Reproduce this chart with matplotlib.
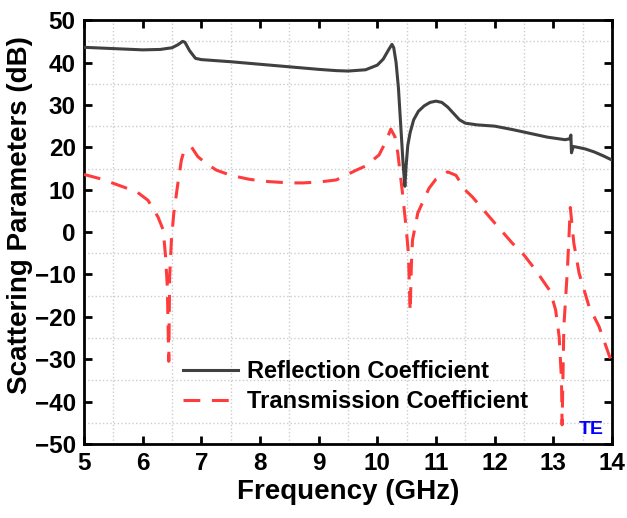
import numpy as np
import matplotlib
matplotlib.use("Agg")
import matplotlib.pyplot as plt
from matplotlib.ticker import MultipleLocator

plt.rcParams['font.family'] = ['Liberation Sans', 'DejaVu Sans']
plt.rcParams['font.weight'] = 'bold'

# reflection coefficient (dB)
f_ref = [5.0, 5.5, 6.0, 6.3, 6.5, 6.6, 6.68, 6.72, 6.8, 6.9, 7.0, 7.5, 8.0, 8.5,
         9.0, 9.3, 9.5, 9.8, 10.0, 10.1, 10.2, 10.25, 10.28, 10.32, 10.36, 10.40,
         10.44, 10.47, 10.49, 10.52, 10.56, 10.62, 10.7, 10.8, 10.9, 11.0, 11.1,
         11.2, 11.3, 11.4, 11.5, 11.7, 12.0, 12.3, 12.6, 12.9, 13.1, 13.2, 13.28,
         13.30, 13.31, 13.34, 13.45, 13.55, 13.7, 13.85, 14.0]
s_ref = [43.6, 43.3, 43.0, 43.1, 43.5, 44.2, 45.0, 44.8, 42.8, 41.0, 40.7, 40.2,
         39.6, 39.0, 38.4, 38.1, 38.0, 38.3, 39.4, 40.8, 43.2, 44.3, 43.5, 40.0,
         34.0, 25.0, 16.0, 10.8, 15.5, 20.5, 23.5, 26.5, 28.5, 29.8, 30.6, 30.9,
         30.6, 29.5, 28.0, 26.5, 25.7, 25.3, 25.0, 24.2, 23.3, 22.4, 22.0, 21.8,
         22.0, 22.9, 18.7, 20.2, 19.9, 19.6, 18.9, 18.0, 17.0]

# transmission coefficient (dB)
f_tra = [5.0, 5.3, 5.6, 5.9, 6.09, 6.26, 6.35, 6.39, 6.42, 6.43, 6.445, 6.46,
         6.49, 6.53, 6.6, 6.66, 6.7, 6.83, 6.94, 7.1, 7.26, 7.5, 7.8, 8.0, 8.16,
         8.5, 8.73, 9.0, 9.3, 9.64, 9.8, 10.03, 10.15, 10.23, 10.3, 10.35, 10.43,
         10.49, 10.53, 10.56, 10.58, 10.6, 10.69, 10.88, 11.0, 11.2, 11.34, 11.5,
         11.62, 11.96, 12.3, 12.5, 12.7, 12.95, 13.04, 13.1, 13.14, 13.15, 13.18,
         13.24, 13.27, 13.29, 13.35, 13.44, 13.61, 13.78, 13.96, 14.0]
s_tra = [13.6, 12.5, 11.0, 9.5, 7.5, 3.6, 0.5, -5.8, -12.9, -20.0, -30.5, -10.5,
         -1.9, 4.4, 11.5, 17.0, 18.9, 20.1, 17.8, 16.0, 14.6, 13.4, 12.5, 12.1,
         11.9, 11.6, 11.6, 11.8, 12.3, 14.6, 15.6, 18.2, 21.5, 24.3, 22.5, 18.6,
         9.1, 1.2, -5.0, -18.8, -8.0, -1.9, 4.5, 10.3, 12.5, 14.2, 13.4, 9.9,
         8.3, 2.8, -2.6, -5.4, -9.0, -14.0, -18.4, -24.7, -34.9, -45.5, -22.3,
         -9.0, -0.3, 5.8, -2.6, -9.7, -17.6, -22.3, -29.4, -30.5]

fig = plt.figure(figsize=(6.27, 5.18), dpi=100)
ax = fig.add_axes([0.134, 0.143, 0.842, 0.818])

ax.plot(f_ref, s_ref, color='#404040', lw=2.2, label='Reflection Coefficient', zorder=3)
ax.plot(f_tra, s_tra, color='#ff3c3c', lw=2.2, dashes=(5.5, 3.8),
        label='Transmission Coefficient', zorder=3)

ax.set_xlim(5, 14)
ax.set_ylim(-50, 50)
ax.xaxis.set_major_locator(MultipleLocator(1))
ax.yaxis.set_major_locator(MultipleLocator(10))
ax.xaxis.set_minor_locator(MultipleLocator(0.5))
ax.yaxis.set_minor_locator(MultipleLocator(5))
ax.grid(False, which='major')
ax.grid(True, which='minor', color='#cccccc', ls=':', lw=1.0)

ax.tick_params(which='major', direction='in', length=6, width=2,
               top=True, right=True, labelsize=17.5, pad=6)
ax.tick_params(which='minor', length=0)
for sp in ax.spines.values():
    sp.set_linewidth(2)

ax.set_xlabel('Frequency (GHz)', fontsize=20, fontweight='bold', labelpad=3)
ax.set_ylabel('Scattering Parameters (dB)', fontsize=20, fontweight='bold')
ax.yaxis.set_label_coords(-0.097, 0.54)

ax.legend(loc='lower left', bbox_to_anchor=(0.188, 0.072), frameon=False,
          fontsize=17, handlelength=2.3, handletextpad=0.4, labelspacing=0.3,
          borderpad=0, borderaxespad=0)

ax.text(0.985, 0.015, 'TE', transform=ax.transAxes, color='blue', fontsize=14,
        fontweight='bold', ha='right', va='bottom')

fig.savefig('out.png', dpi=100)
